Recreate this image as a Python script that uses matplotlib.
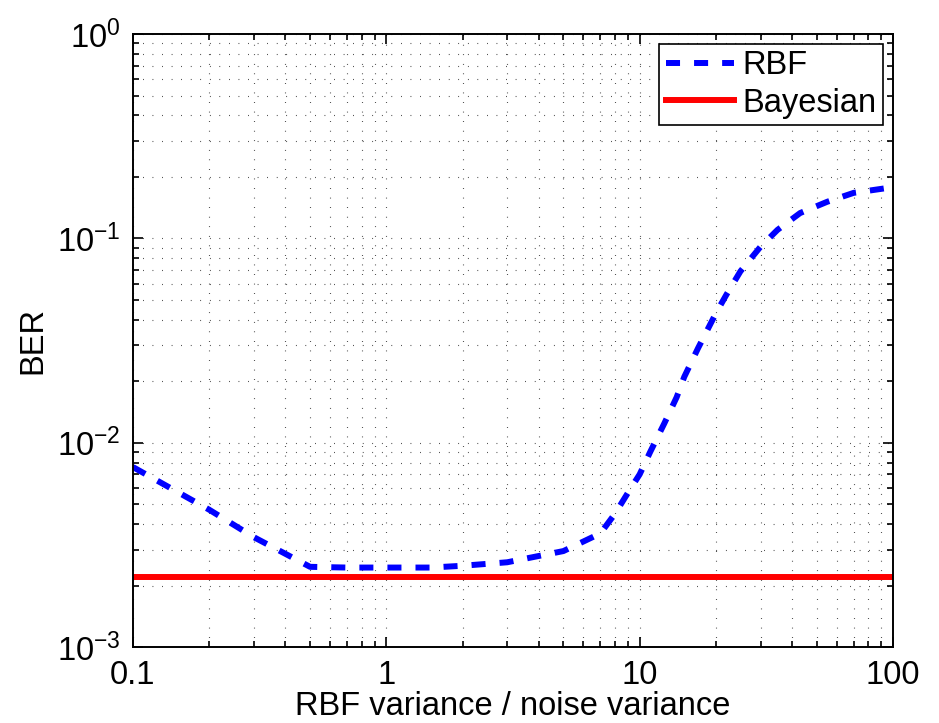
import numpy as np
import matplotlib
matplotlib.use("Agg")
import matplotlib.pyplot as plt
from matplotlib.ticker import LogLocator, FuncFormatter, NullFormatter

plt.rcParams['font.family'] = ['Liberation Sans', 'DejaVu Sans']
plt.rcParams['mathtext.fontset'] = 'custom'
plt.rcParams['mathtext.rm'] = 'Liberation Sans'
plt.rcParams['mathtext.it'] = 'Liberation Sans'
plt.rcParams['mathtext.default'] = 'regular'

# RBF variance / noise variance ratio and the measured bit error rate
ratio = [0.1, 0.2, 0.3, 0.5, 0.7, 1, 1.5, 2, 3, 5, 7, 8, 9, 10, 11, 12.5,
         14, 15, 17, 20, 22, 25, 30, 35, 43, 55, 70, 100]
ber_rbf = [7.6e-3, 4.7e-3, 3.45e-3, 2.47e-3, 2.45e-3, 2.45e-3, 2.45e-3, 2.5e-3,
           2.6e-3, 2.95e-3, 3.6e-3, 4.5e-3, 5.7e-3, 7.0e-3, 9.0e-3, 1.24e-2,
           1.67e-2, 2.1e-2, 2.9e-2, 4.3e-2, 5.3e-2, 6.9e-2, 9.1e-2, 0.11,
           0.133, 0.151, 0.167, 0.178]
ber_bayes = 2.2e-3

FS = 23.5

fig = plt.figure(figsize=(9.39, 7.23), dpi=100)
ax = fig.add_axes([0.1416, 0.105, 0.8094, 0.848])

ax.plot(ratio, ber_rbf, color='#0000ff', lw=4.3, linestyle=(0, (2.35, 2.35)),
        dash_capstyle='butt', label='RBF')
ax.plot([0.1, 100], [ber_bayes, ber_bayes], color='#ff0000', lw=4.3,
        label='Bayesian')

ax.set_xscale('log')
ax.set_yscale('log')
ax.set_xlim(0.1, 100)
ax.set_ylim(1e-3, 1)

ax.xaxis.set_major_locator(LogLocator(base=10, numticks=10))
ax.xaxis.set_minor_locator(LogLocator(base=10, subs=np.arange(2, 10), numticks=10))
ax.yaxis.set_major_locator(LogLocator(base=10, numticks=10))
ax.yaxis.set_minor_locator(LogLocator(base=10, subs=np.arange(2, 10), numticks=10))
ax.xaxis.set_major_formatter(FuncFormatter(lambda v, p: '%g' % v))
ax.yaxis.set_major_formatter(FuncFormatter(lambda v, p: r'$10^{%d}$' % round(np.log10(v))))
ax.xaxis.set_minor_formatter(NullFormatter())
ax.yaxis.set_minor_formatter(NullFormatter())

ax.grid(True, which='both', color='black', linestyle=(0, (0.6, 8)), linewidth=0.8)
ax.set_axisbelow(True)

ax.tick_params(which='both', direction='in', top=True, right=True, width=1.2)
ax.tick_params(which='major', length=7, labelsize=FS, pad=9)
ax.tick_params(which='minor', length=4)
for s in ax.spines.values():
    s.set_linewidth(1.4)

ax.set_xlabel('RBF variance / noise variance', fontsize=FS, labelpad=0)
ax.set_ylabel('BER', fontsize=FS, labelpad=6)

leg = ax.legend(loc='upper right', fontsize=FS, fancybox=False, framealpha=1,
                edgecolor='black', handlelength=2.1, handletextpad=0.25,
                borderpad=0.2, labelspacing=0.2, borderaxespad=0.3)
leg.get_frame().set_linewidth(1.2)

fig.savefig('out.png', dpi=100)
